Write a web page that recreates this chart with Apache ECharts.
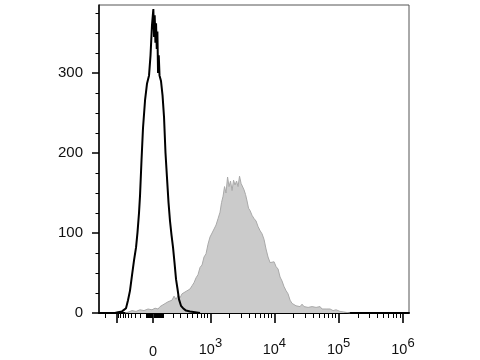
<!DOCTYPE html>
<html>
<head>
<meta charset="utf-8">
<script src="https://cdn.jsdelivr.net/npm/echarts@6/dist/echarts.min.js"></script>
<style>html,body{margin:0;padding:0;background:#fff;}#c{width:480px;height:360px;}</style>
</head>
<body>
<div id="c"></div>
<script>
// ---- Data (x in biexponential display units, y = cell count) ----
const blackX = [-0.840,-0.591,-0.544,-0.513,-0.482,-0.451,-0.420,-0.389,-0.358,-0.327,-0.295,-0.264,-0.241,-0.218,-0.202,-0.179,-0.156,-0.124,-0.093,-0.062,-0.039,-0.016,0.005,0.016,0.026,0.037,0.047,0.058,0.068,0.078,0.089,0.101,0.124,0.148,0.171,0.194,0.218,0.241,0.264,0.288,0.311,0.334,0.358,0.381,0.404,0.435,0.467,0.513,0.575,0.653,0.731];
const blackY = [0,0,1,2,2,3,6,16,28,47,66,82,101,125,147,191,231,266,287,297,322,360,380,345,372,338,362,330,352,300,322,297,290,272,245,200,168,138,115,97,82,63,42,30,17,9,6,3,2,1,0];

const grayX = [-0.435,-0.389,-0.327,-0.264,-0.202,-0.140,-0.078,-0.016,0.031,0.078,0.109,0.140,0.171,0.202,0.233,0.264,0.295,0.327,0.358,0.389,0.420,0.451,0.482,0.513,0.544,0.575,0.607,0.638,0.669,0.700,0.731,0.762,0.793,0.824,0.855,0.886,0.918,0.949,0.980,1.011,1.042,1.065,1.089,1.112,1.135,1.159,1.182,1.205,1.229,1.252,1.275,1.299,1.322,1.345,1.369,1.392,1.415,1.439,1.462,1.485,1.509,1.540,1.571,1.602,1.633,1.664,1.695,1.726,1.757,1.788,1.820,1.851,1.882,1.913,1.944,1.975,2.006,2.037,2.068,2.099,2.131,2.162,2.193,2.224,2.255,2.286,2.317,2.348,2.379,2.411,2.442,2.473,2.504,2.535,2.566,2.597,2.628,2.659,2.691,2.722,2.753,2.799,2.846,2.908,2.986,3.064];
const grayY = [0,1,3,2,4,3,5,4,6,5,8,6,11,9,14,12,16,21,17,22,19,24,22,27,25,30,34,38,44,48,57,60,70,74,86,95,100,105,110,118,126,138,146,158,150,170,158,165,153,166,160,165,158,171,162,160,154,148,140,131,128,122,118,115,108,103,99,92,80,70,63,62,64,58,55,45,40,33,28,24,16,12,11,9,10,8,11,8,10,7,9,8,10,7,6,8,5,7,5,4,5,3,4,2,1,0];

// axis ticks (fluorescence values) and labels
const majorTicks = [-1000, 0, 1e3, 1e4, 1e5, 1e6];
const labelValues = [0, 1e3, 1e4, 1e5, 1e6];
const labelTexts = ['{z|0}', '{b|10}{s|3}', '{b|10}{s|4}', '{b|10}{s|5}', '{b|10}{s|6}'];
const yMajor = [0, 100, 200, 300];
const yLabels = ['0', '100', '200', '300'];
const yMinor = [25, 50, 75, 125, 150, 175, 225, 250, 275, 325, 350, 375];

// biexponential-like display transform
function D(v) {
  const t = Math.asinh(Math.abs(v) / 260) / Math.LN10;
  return v < 0 ? -0.63 * t : t;
}
const minorVals = [];
[10, 100, 1000, 1e4, 1e5].forEach(dec => {
  for (let m = 1; m <= 9; m++) {
    const v = m * dec;
    if (v === 1000 || (m === 1 && dec >= 1000)) continue;
    minorVals.push(D(v));
    if (dec <= 100) minorVals.push(D(-v));
  }
});
minorVals.push(D(-2000));
const xMin = -0.84, xMax = 3.98;

const labelMap = {};
labelValues.forEach((v, i) => { labelMap[D(v).toFixed(6)] = labelTexts[i]; });
const yLabelMap = {};
yMajor.forEach((v, i) => { yLabelMap[v] = yLabels[i]; });

const font = 'Liberation Sans, Arial, sans-serif';
const chart = echarts.init(document.getElementById('c'), null, {renderer: 'canvas'});
chart.setOption({
  animation: false,
  backgroundColor: '#fff',
  grid: {left: 99, right: 71, top: 5, bottom: 47, show: true, borderColor: '#555', borderWidth: 1,
         backgroundColor: 'transparent', containLabel: false, outerBoundsMode: 'none'},
  xAxis: [{
    type: 'value', min: xMin, max: xMax, position: 'bottom',
    axisLine: {show: true, onZero: false, lineStyle: {color: '#000', width: 2}},
    axisTick: {show: true, customValues: majorTicks.map(D), length: 10, lineStyle: {color: '#000', width: 1.6}},
    axisLabel: {
      show: true, customValues: labelValues.map(D), margin: 29, color: '#111', fontFamily: font,
      formatter: v => labelMap[Number(v).toFixed(6)] || '',
      rich: {
        b: {fontSize: 14.5, lineHeight: 15, fontFamily: font, color: '#111'},
        s: {fontSize: 13, lineHeight: 13, padding: [0, 0, 13, 0], fontFamily: font, color: '#111'},
        z: {fontSize: 14.5, lineHeight: 19, fontFamily: font, color: '#111'}
      }
    },
    splitLine: {show: false}
  }, {
    type: 'value', min: xMin, max: xMax, position: 'bottom',
    axisLine: {show: false, onZero: false},
    axisTick: {show: true, customValues: minorVals, length: 5, lineStyle: {color: '#000', width: 1}},
    axisLabel: {show: false},
    splitLine: {show: false}
  }],
  yAxis: [{
    type: 'value', min: 0, max: 385, position: 'left',
    axisLine: {show: true, onZero: false, lineStyle: {color: '#000', width: 1.5}},
    axisTick: {show: true, customValues: yMajor, length: 7, lineStyle: {color: '#000', width: 1.5}},
    axisLabel: {show: true, customValues: yMajor, margin: 16, fontSize: 15, color: '#111', fontFamily: font,
      formatter: v => yLabelMap[v] !== undefined ? yLabelMap[v] : ''},
    splitLine: {show: false}
  }, {
    type: 'value', min: 0, max: 385, position: 'left',
    axisLine: {show: false, onZero: false},
    axisTick: {show: true, customValues: yMinor, length: 3.5, lineStyle: {color: '#000', width: 1}},
    axisLabel: {show: false},
    splitLine: {show: false}
  }],
  series: [{
    type: 'line', xAxisIndex: 0, yAxisIndex: 0,
    data: grayX.map((x, i) => [x, grayY[i]]),
    showSymbol: false, symbol: 'none',
    lineStyle: {color: '#a9a9a9', width: 1},
    areaStyle: {color: '#cbcbcb', opacity: 1},
    z: 2
  }, {
    type: 'line', xAxisIndex: 0, yAxisIndex: 0,
    data: blackX.map((x, i) => [x, blackY[i]]),
    showSymbol: false, symbol: 'none',
    lineStyle: {color: '#000', width: 2},
    z: 3
  }]
});
</script>
</body>
</html>
